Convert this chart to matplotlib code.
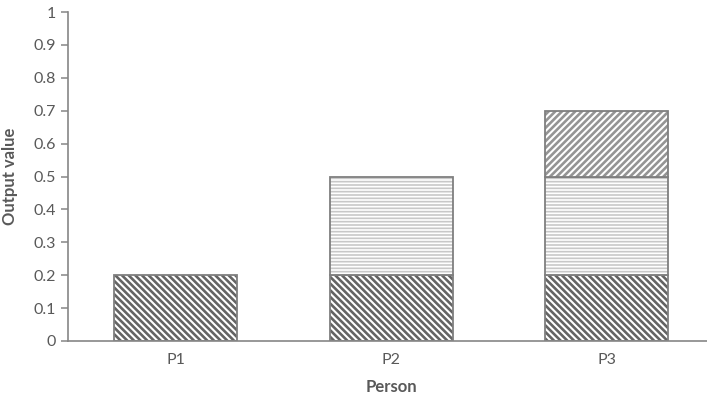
import matplotlib.pyplot as plt
import numpy as np

plt.rcParams['font.family'] = ['Lato', 'DejaVu Sans']

persons = ['P1', 'P2', 'P3']
part_a = [0.2, 0.2, 0.2]   # bottom, backslash hatch
part_b = [0.0, 0.3, 0.3]   # middle, horizontal hatch
part_c = [0.0, 0.0, 0.2]   # top, slash hatch

yticks = [0, 0.1, 0.2, 0.3, 0.4, 0.5, 0.6, 0.7, 0.8, 0.9, 1]
ytick_labels = ['0', '0.1', '0.2', '0.3', '0.4', '0.5', '0.6', '0.7', '0.8', '0.9', '1']

txt = '#595959'
edge = '#7f7f7f'

fig = plt.figure(figsize=(7.07, 4.03), dpi=100)
ax = fig.add_axes([68 / 707, 62 / 403, 639 / 707, 329 / 403])

x = np.arange(len(persons))
w = 0.57
a = np.array(part_a)
b = np.array(part_b)
c = np.array(part_c)

# (values, bottoms, hatch, hatch colour, hatch line width)
layers = [
    (a, np.zeros(3), '\\' * 5, '#646464', 1.9),
    (b, a, '-----', '#c8c8c8', 1.2),
    (c, a + b, '/' * 5, '#959595', 1.9),
]
for vals, bottom, hatch, hcol, hlw in layers:
    m = vals > 0
    with plt.rc_context({'hatch.linewidth': hlw}):
        bars = ax.bar(x[m], vals[m], w, bottom=bottom[m], color='white',
                      edgecolor=hcol, hatch=hatch, linewidth=0)
        for p in bars:
            if hasattr(p, 'set_hatch_linewidth'):
                p.set_hatch_linewidth(hlw)
    ax.bar(x[m], vals[m], w, bottom=bottom[m], fill=False,
           edgecolor=edge, linewidth=1.3)

ax.set_xlim(-0.5, -0.5 + 639 / 215.5)
ax.set_ylim(0, 1)
ax.set_yticks(yticks)
ax.set_yticklabels(ytick_labels)
ax.set_xticks(x)
ax.set_xticklabels(persons)

for s in ['top', 'right']:
    ax.spines[s].set_visible(False)
for s in ['left', 'bottom']:
    ax.spines[s].set_color('#868686')
    ax.spines[s].set_linewidth(1.2)

ax.tick_params(axis='y', direction='out', length=5, width=1.1, color='#868686',
               labelsize=11.5, labelcolor=txt, pad=4)
ax.tick_params(axis='x', length=0, labelsize=11.5, labelcolor=txt, pad=9)

ax.set_xlabel('Person', fontsize=12, fontweight='bold', color=txt)
ax.xaxis.set_label_coords((391 - 68) / 639, -38 / 329)
ax.set_ylabel('Output value', fontsize=12, fontweight='bold', color=txt)
ax.yaxis.set_label_coords(-50 / 639, 0.5)

fig.savefig('out.png', dpi=100)
